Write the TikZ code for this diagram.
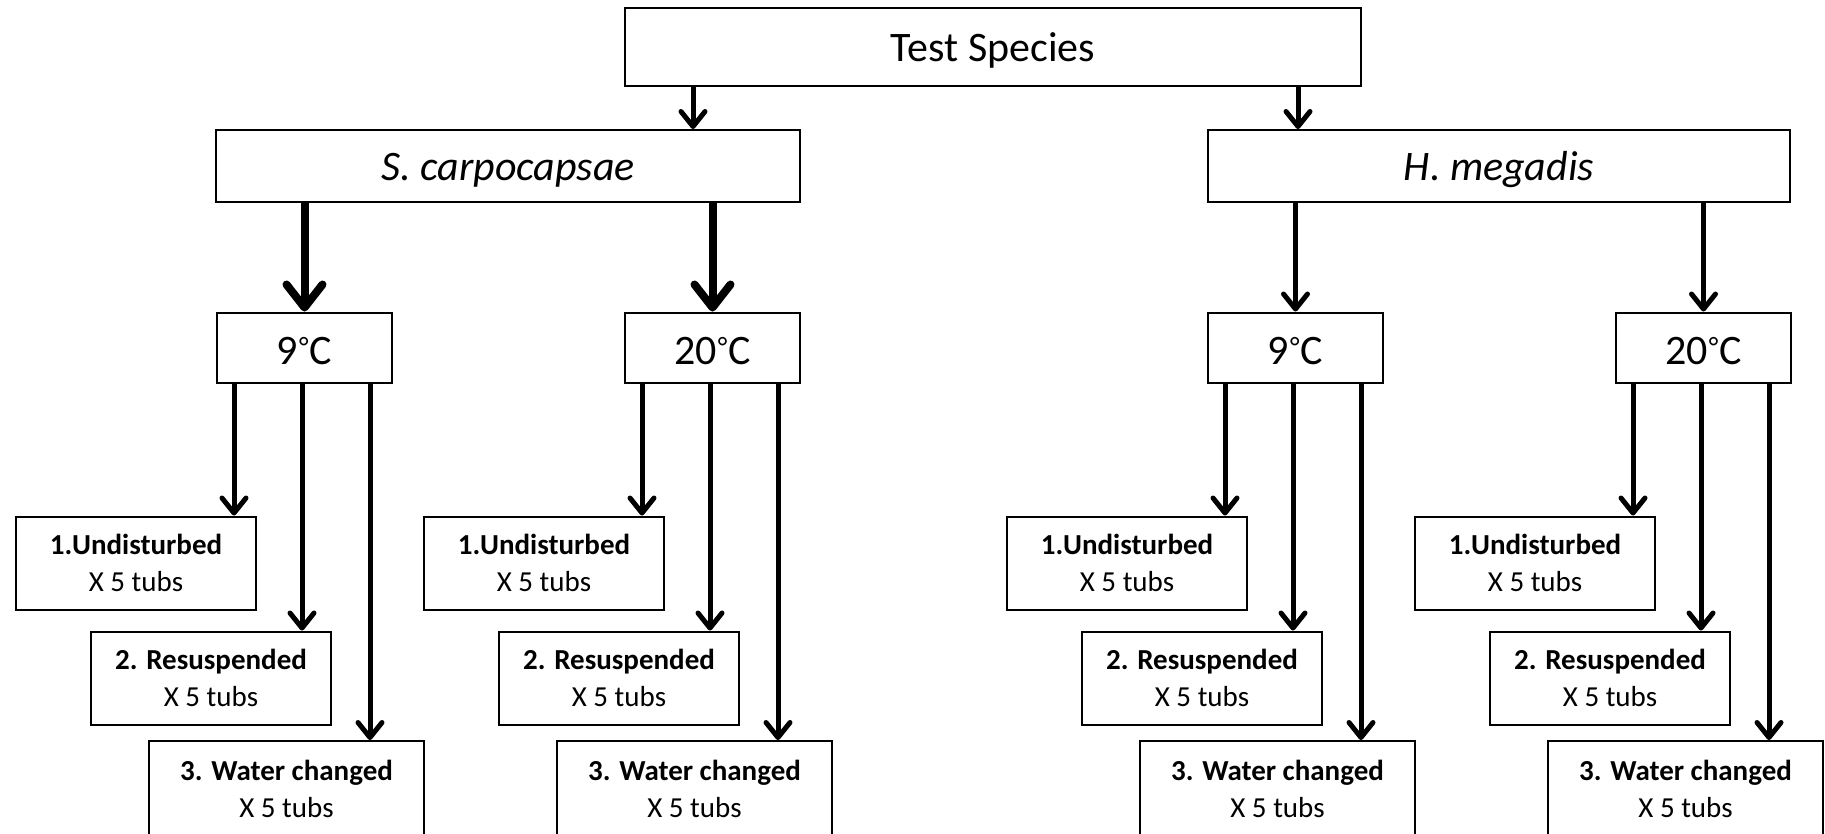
\documentclass[tikz,border=0pt]{standalone}
\usepackage{fontspec}
\setmainfont{Carlito}
\usetikzlibrary{arrows.meta,calc}
\newcommand{\degring}{\kern1pt\raisebox{8pt}{\fontsize{28}{28}\selectfont °}\kern1pt}
\begin{document}
\begin{tikzpicture}[x=1pt,y=-1pt,
  box/.style={draw, line width=2pt, rectangle, inner sep=0pt, fill=white},
  big/.style={font=\fontsize{42}{50}\selectfont, text height=36pt, text depth=8pt},
  temp/.style={font=\fontsize{42}{50}\selectfont, text height=33pt, text depth=0pt},
  sub/.style={font=\fontsize{29}{37}\selectfont, align=center},
  arr/.style={line width=5pt, -{Straight Barb[length=15pt,width=24pt,round]}},
  thickarr/.style={line width=8pt, -{Straight Barb[length=23pt,width=36pt,round]}}]
\useasboundingbox (0,0) rectangle (1825,833);

\node[box,big,minimum width=736pt,minimum height=78pt] (ts) at (993,47) {Test Species};
\node[box,big,minimum width=584pt,minimum height=72pt] (sc) at (508,166) {\textit{S. carpocapsae}};
\node[box,big,minimum width=582pt,minimum height=72pt] (hm) at (1499,166) {\textit{H. megadis}};

\coordinate (ta) at ([xshift=-300pt]ts.south);
\coordinate (tb) at ([xshift=305pt]ts.south);
\draw[arr] (ta) -- (ta |- sc.north);
\draw[arr] (tb) -- (tb |- hm.north);

\foreach \o/\lab/\i in {0/9/1, 408/20/2, 991/9/3, 1399/20/4} {
  \node[box,temp,minimum width=175pt,minimum height=70pt] (t\i) at (304.5+\o,347.5) {\lab\degring C};
  \node[box,sub,minimum width=240pt,minimum height=93pt] (u\i) at (136+\o,563) {\textbf{1.Undisturbed}\\X 5 tubs};
  \node[box,sub,minimum width=240pt,minimum height=93pt] (r\i) at (211+\o,678) {\textbf{2. Resuspended}\\X 5 tubs};
  \node[box,sub,minimum width=275pt,minimum height=96pt] (w\i) at (286.5+\o,789) {\textbf{3. Water changed}\\X 5 tubs};
  \coordinate (p\i-a) at ([xshift=-70.5pt]t\i.south);
  \coordinate (p\i-b) at ([xshift=-2.5pt]t\i.south);
  \coordinate (p\i-c) at ([xshift=65.5pt]t\i.south);
  \draw[arr] (p\i-a) -- (p\i-a |- u\i.north);
  \draw[arr] (p\i-b) -- (p\i-b |- r\i.north);
  \draw[arr] (p\i-c) -- (p\i-c |- w\i.north);
}

\draw[thickarr] (sc.south -| t1.north) -- (t1.north);
\draw[thickarr] (sc.south -| t2.north) -- (t2.north);
\draw[arr] (hm.south -| t3.north) -- (t3.north);
\draw[arr] (hm.south -| t4.north) -- (t4.north);
\end{tikzpicture}
\end{document}
